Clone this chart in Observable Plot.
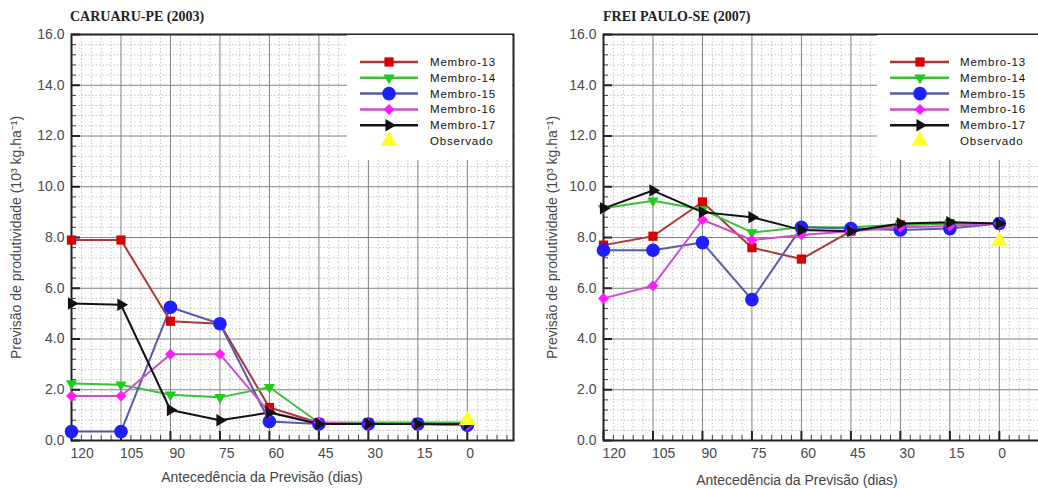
<!DOCTYPE html>
<html><head><meta charset="utf-8">
<script src="https://cdn.jsdelivr.net/npm/d3@7"></script>
<script src="https://cdn.jsdelivr.net/npm/@observablehq/plot@0.6"></script>
<style>
body{margin:0;background:#fff;overflow:hidden;}
#wrap{position:relative;width:1038px;height:488px;overflow:hidden;font-family:Arial,"Liberation Sans",sans-serif;background:#fff;}
.panel{position:absolute;top:0;}
.panel svg{max-width:none !important;}
.title{position:absolute;font-family:"Liberation Serif","Times New Roman",serif;font-weight:bold;font-size:14px;color:#222;white-space:nowrap;line-height:16px;}
.xlabel{position:absolute;font-size:14px;color:#444;transform:translateX(-50%);white-space:nowrap;line-height:16px;}
.legend{position:absolute;background:#fff;}
</style></head><body><div id="wrap"></div>
<script>
// ---------- data ----------
const days = [120, 105, 90, 75, 60, 45, 30, 15, 0];
const members = ["Membro-13", "Membro-14", "Membro-15", "Membro-16", "Membro-17"];
const observedLabel = "Observado";
const xTicks = [120, 105, 90, 75, 60, 45, 30, 15, 0];
const yTicks = [0, 2, 4, 6, 8, 10, 12, 14, 16];

// CARUARU-PE (2003)
const caruaru13 = [7.9, 7.9, 4.7, 4.6, 1.3, 0.7, 0.7, 0.7, 0.7];
const caruaru14 = [2.25, 2.2, 1.8, 1.7, 2.1, 0.7, 0.7, 0.7, 0.7];
const caruaru15 = [0.35, 0.35, 5.25, 4.6, 0.75, 0.65, 0.65, 0.65, 0.6];
const caruaru16 = [1.75, 1.75, 3.4, 3.4, 1.1, 0.7, 0.65, 0.65, 0.6];
const caruaru17 = [5.4, 5.35, 1.2, 0.8, 1.1, 0.65, 0.65, 0.65, 0.65];
const caruaruObsDay = [0];
const caruaruObs = [0.8];

// FREI PAULO-SE (2007)
const frei13 = [7.7, 8.05, 9.4, 7.6, 7.15, 8.25, 8.5, 8.55, 8.55];
const frei14 = [9.15, 9.45, 9.1, 8.2, 8.4, 8.4, 8.5, 8.55, 8.55];
const frei15 = [7.5, 7.5, 7.8, 5.55, 8.4, 8.35, 8.3, 8.35, 8.55];
const frei16 = [5.6, 6.1, 8.7, 7.9, 8.1, 8.25, 8.4, 8.45, 8.55];
const frei17 = [9.15, 9.85, 9.0, 8.8, 8.3, 8.25, 8.55, 8.6, 8.55];
const freiObsDay = [0];
const freiObs = [7.85];

// ---------- styles ----------
const styles = {
  "Membro-13": {line: "#a83838", fill: "#d80000", symbol: "square", rotate: 0, r: 5.2},
  "Membro-14": {line: "#3cc03c", fill: "#1ecc1e", symbol: "triangle", rotate: 180, r: 4.2},
  "Membro-15": {line: "#5a5aa8", fill: "#1e1eff", symbol: "circle", rotate: 0, r: 6.8},
  "Membro-16": {line: "#cc50cc", fill: "#ff1cff", symbol: "square", rotate: 45, r: 4.4},
  "Membro-17": {line: "#111111", fill: "#111111", symbol: "triangle", rotate: 90, r: 4.6}
};
const obsStyle = {fill: "#ffff30", symbol: "triangle", rotate: 0, r: 6.2};

const H = 488, MT = 34, MB = 48;
const xDomain = [120, -14];
const minorX = d3.range(-12, 121, 3).filter(d => d % 15 !== 0);
const minorY = d3.range(0, 16.001, 0.4).map(d => +d.toFixed(1)).filter(d => Math.abs(d / 2 - Math.round(d / 2)) > 1e-6);

function makePanel(seriesArrays, obsDays, obsVals, o) {
  const rows = [];
  members.forEach((m, i) => seriesArrays[i].forEach((v, j) => rows.push({member: m, day: days[j], value: v})));
  const obsRows = obsDays.map((d, i) => ({day: d, value: obsVals[i]}));
  const frameW = o.width - o.ml - o.mr;
  const frameH = H - MT - MB;
  const marks = [
    Plot.gridX(minorX, {stroke: "#c4c4c4", strokeOpacity: 1, strokeDasharray: "1.5,2"}),
    Plot.gridY(minorY, {stroke: "#c4c4c4", strokeOpacity: 1, strokeDasharray: "1.5,2"}),
    Plot.gridX(xTicks, {stroke: "#808080", strokeOpacity: 1}),
    Plot.gridY(yTicks, {stroke: "#808080", strokeOpacity: 1}),
    Plot.ruleX(xTicks, {insetTop: frameH - 9, stroke: "#222", strokeWidth: 2}),
    Plot.ruleX(minorX, {insetTop: frameH - 5, stroke: "#444", strokeWidth: 1}),
    Plot.ruleY(yTicks, {insetRight: frameW - 9, stroke: "#222", strokeWidth: 2}),
    Plot.ruleY(minorY, {insetRight: frameW - 5, stroke: "#444", strokeWidth: 1}),
    Plot.axisY(yTicks, {tickSize: 0, tickPadding: 7, tickFormat: d => d.toFixed(1), fontSize: 14, fill: "#4a4a4a",
      label: "Previsão de produtividade (10³ kg.ha⁻¹)", labelAnchor: "center", labelOffset: o.labelOffset, labelArrow: "none"}),
    Plot.axisX(xTicks, {tickSize: 0, tickPadding: 8, textAnchor: "start", dx: -1, fontSize: 14, fill: "#4a4a4a", label: null}),
    Plot.frame({stroke: "#222", strokeWidth: 2})
  ];
  members.forEach(m => {
    const s = styles[m];
    const data = rows.filter(r => r.member === m);
    marks.push(Plot.line(data, {x: "day", y: "value", stroke: s.line, strokeWidth: 2}));
  });
  members.forEach(m => {
    const s = styles[m];
    const data = rows.filter(r => r.member === m);
    marks.push(Plot.dot(data, {x: "day", y: "value", symbol: s.symbol, rotate: s.rotate, r: s.r, fill: s.fill, stroke: "none"}));
  });
  marks.push(Plot.dot(obsRows, {x: "day", y: "value", symbol: obsStyle.symbol, r: obsStyle.r, fill: obsStyle.fill, stroke: "none"}));
  const svg = Plot.plot({
    width: o.width, height: H,
    marginLeft: o.ml, marginRight: o.mr, marginTop: MT, marginBottom: MB,
    x: {domain: xDomain},
    y: {domain: [0, 16]},
    style: {fontFamily: "Arial, 'Liberation Sans', sans-serif", fontSize: "14px", color: "#4a4a4a", background: "transparent", overflow: "visible", maxWidth: "none"},
    marks
  });
  svg.style.maxWidth = "none";
  svg.style.width = o.width + "px";
  svg.style.height = H + "px";
  return svg;
}

function makeLegend(left, top, w, h, lx1, lx2, mx, tx) {
  const div = document.createElement("div");
  div.className = "legend";
  Object.assign(div.style, {left: left + "px", top: top + "px", width: w + "px", height: h + "px"});
  const svg = d3.create("svg").attr("width", w).attr("height", h).style("display", "block");
  const entries = members.map(m => ({label: m, ...styles[m], hasLine: true}));
  entries.push({label: observedLabel, ...obsStyle, hasLine: false});
  const symMap = {square: d3.symbolSquare, triangle: d3.symbolTriangle, circle: d3.symbolCircle};
  entries.forEach((e, i) => {
    const y = 27 + i * 15.8;
    if (e.hasLine) svg.append("line").attr("x1", lx1).attr("x2", lx2).attr("y1", y).attr("y2", y)
      .attr("stroke", e.line).attr("stroke-width", 2.5);
    svg.append("path").attr("d", d3.symbol(symMap[e.symbol], Math.PI * e.r * e.r)())
      .attr("transform", `translate(${mx},${y}) rotate(${e.rotate})`).attr("fill", e.fill);
    svg.append("text").attr("x", tx).attr("y", y).attr("dy", "0.35em").text(e.label)
      .attr("font-family", "Arial, 'Liberation Sans', sans-serif").attr("font-size", 11.5)
      .attr("letter-spacing", "0.8").attr("fill", "#111");
  });
  div.appendChild(svg.node());
  return div;
}

const wrap = document.getElementById("wrap");

function addPanel(left, svgW, ml, mr, labelOffset, arrays, od, ov, title, titleX, xlabelX, xlabelY, legendArgs) {
  const p = document.createElement("div");
  p.className = "panel";
  p.style.left = left + "px";
  p.style.width = svgW + "px";
  p.style.height = H + "px";
  p.appendChild(makePanel(arrays, od, ov, {width: svgW, ml, mr, labelOffset}));
  wrap.appendChild(p);
  const t = document.createElement("div");
  t.className = "title"; t.textContent = title;
  t.style.left = titleX + "px"; t.style.top = "9px";
  wrap.appendChild(t);
  const xl = document.createElement("div");
  xl.className = "xlabel"; xl.textContent = "Antecedência da Previsão (dias)";
  xl.style.left = xlabelX + "px"; xl.style.top = xlabelY + "px";
  wrap.appendChild(xl);
  wrap.appendChild(makeLegend(...legendArgs));
}

addPanel(0, 519, 71, 6, 60, [caruaru13, caruaru14, caruaru15, caruaru16, caruaru17], caruaruObsDay, caruaruObs,
  "CARUARU-PE (2003)", 70, 262, 469, [347, 35, 165, 125, 13, 71, 42, 83]);
addPanel(519, 526, 84, 0, 56, [frei13, frei14, frei15, frei16, frei17], freiObsDay, freiObs,
  "FREI PAULO-SE (2007)", 603, 797, 472, [877, 35, 161, 125, 13, 72, 43, 83]);
</script></body></html>
